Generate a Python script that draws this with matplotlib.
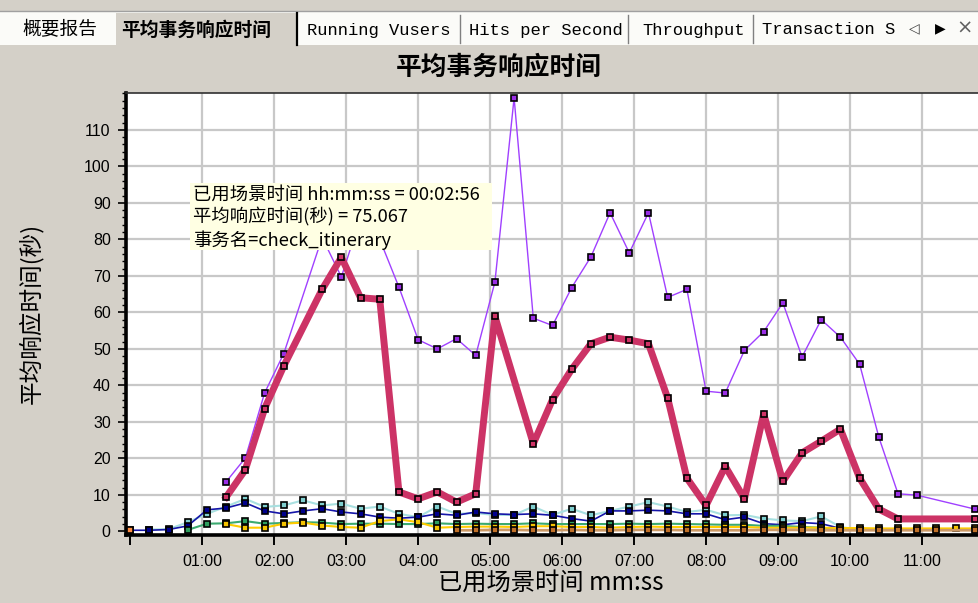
import matplotlib
matplotlib.use('Agg')
import matplotlib.pyplot as plt
from matplotlib.patches import Rectangle
from matplotlib.lines import Line2D
from matplotlib.ticker import FixedLocator, MultipleLocator, FuncFormatter
import numpy as np

plt.rcParams['font.family'] = ['Noto Sans CJK SC', 'DejaVu Sans']

nan = np.nan

# samples every 16 s (granularity of the analysis graph)
elapsed = np.arange(45) * 16

check_itinerary = [nan, nan, nan, nan, nan,
                   9.4, 16.9, 33.6, 45.3, nan,
                   66.3, 75.067, 64.0, 63.6, 10.8,
                   8.9, 10.8, 8.0, 10.3, 58.9, nan, 24.0, 36.1, 44.4, 51.4,
                   53.2, 52.4, 51.4, 36.5, 14.6, 7.1, 17.8, 8.9, 32.2, 13.7,
                   21.5, 24.7, 28.0, 14.6, 6.1, 3.4, nan, nan, nan, 3.4]
purple_txn = [nan, nan, nan, nan, nan,
              13.6, 20.1, 37.9, 48.7, nan,
              80.5, 69.7, 86.0, 80.0, 66.9,
              52.5, 50.0, 52.8, 48.2, 68.3, 118.8, 58.4, 56.4, 66.8, 75.2,
              87.3, 76.3, 87.3, 64.1, 66.3, 38.4, 37.9, 49.6, 54.7, 62.6,
              47.8, 58.0, 53.2, 45.8, 25.8, 10.3, 9.9, nan, nan, 6.1]
navy_txn = [0.3, 0.3, 0.5, 1.5, 5.9, 6.4, 7.8, 5.6, 4.8, 5.6,
            6.2, 5.3, 4.8, 3.9, 3.6, 3.9, 4.8, 4.4, 5.3, 4.8,
            4.6, 4.8, 4.4, 3.5, 2.8, 5.6, 5.6, 5.8, 5.6, 4.8,
            4.8, 3.2, 3.9, 2.1, 1.8, 2.4, 2.1, 0.8, 0.5, nan,
            nan, nan, nan, nan, nan]
teal_txn = [nan, 0.5, 0.6, 2.5, 4.8, 6.8, 8.9, 6.7, 7.1, 8.5,
            7.1, 7.6, 6.2, 6.8, 4.8, 3.9, 6.8, 4.8, 5.0, 4.5,
            4.5, 6.8, 4.5, 6.2, 4.4, 5.6, 6.8, 8.0, 6.8, 5.3,
            5.9, 4.4, 4.5, 3.5, 3.0, 2.8, 4.1, 1.2, 0.4, nan,
            nan, nan, nan, nan, nan]
green_txn = [nan, nan, nan, 0.4, 2.1, 2.2, 2.8, 2.1, 2.3, 2.5,
             2.4, 2.0, 2.1, 2.1, 2.0, 2.0, 2.2, 2.0, 2.1, 2.0,
             2.0, 2.2, 2.0, 2.0, 2.0, 2.0, 2.1, 2.0, 2.1, 2.0,
             1.9, 1.8, 1.8, 1.5, 1.5, 1.2, 1.0, 0.6, nan, nan,
             nan, nan, nan, nan, nan]
yellow_txn = [nan, nan, nan, nan, nan, 2.0, 1.0, 1.0, 2.1, 2.4,
              1.6, 1.2, 1.0, 2.8, 3.3, 2.5, 1.0, 1.2, 1.3, 1.3,
              1.2, 1.4, 1.4, 1.2, 1.2, 1.0, 1.2, 1.3, 1.2, 1.2,
              1.2, 1.2, 1.2, 1.0, 1.0, 1.0, 1.0, 0.9, 0.9, 0.8,
              0.8, 0.8, 0.8, 0.8, 0.8]
brown_txn = [nan, nan, nan, nan, nan, nan, nan, nan, nan, nan,
             nan, nan, nan, nan, nan, nan, nan, 0.3, 0.3, 0.4,
             0.4, 0.3, 0.3, 0.4, 0.3, 0.3, 0.4, 0.4, 0.4, 0.3,
             0.3, 0.3, 0.3, 0.4, 0.4, 0.4, 0.3, 0.3, 0.3, 0.3,
             0.3, 0.3, 0.3, nan, 0.3]
orange_txn = [0.3] + [nan] * 44

y_ticks = list(range(0, 111, 10))
x_ticks = list(range(0, 661, 60))

tabs = ['Running Vusers', 'Hits per Second', 'Throughput', 'Transaction S']

W, H = 979, 603


def fx(px):
    return px / W


def fy(py):
    return 1 - py / H


fig = plt.figure(figsize=(W / 100, H / 100), dpi=100, facecolor='#D4D0C8')

# ---- tab strip ----
fig.patches.append(Rectangle((0, fy(45)), 1, fy(11) - fy(45), transform=fig.transFigure,
                             facecolor='#FBFBF8', edgecolor='none'))
fig.lines.append(Line2D([0, 1], [fy(11), fy(11)], transform=fig.transFigure, color='#A0A0A0', lw=1))
fig.patches.append(Rectangle((fx(116), fy(45)), fx(297) - fx(116), fy(13) - fy(45),
                             transform=fig.transFigure, facecolor='#D4D0C8', edgecolor='none'))
fig.lines.append(Line2D([fx(297), fx(297)], [fy(45), fy(13)], transform=fig.transFigure, color='black', lw=1.6))
fig.text(fx(22), fy(30), '概要报告', fontsize=13.5, va='center', ha='left')
fig.text(fx(121), fy(30), '平均事务响应时间', fontsize=13.5, fontweight='bold', va='center', ha='left')
tab_x = [307, 469, 642, 762]
sep_x = [460, 628, 753]
for x, t in zip(tab_x, tabs):
    fig.text(fx(x), fy(30), t, family='Liberation Mono', fontsize=12.3, va='center', ha='left')
for x in sep_x:
    fig.lines.append(Line2D([fx(x), fx(x)], [fy(43), fy(15)], transform=fig.transFigure, color='#808080', lw=1))
fig.patches.append(Rectangle((fx(892), fy(44)), fx(979) - fx(892), fy(13) - fy(44),
                             transform=fig.transFigure, facecolor='#FBFBF8', edgecolor='none'))
fig.text(fx(914), fy(28), '◁', family='DejaVu Sans', fontsize=10, color='#404040', ha='center', va='center')
fig.text(fx(940), fy(28), '▶', family='DejaVu Sans', fontsize=10, color='black', ha='center', va='center')
fig.text(fx(965), fy(28), '×', family='DejaVu Sans', fontsize=14, color='#606060', ha='center', va='center')

# ---- chart ----
fig.text(fx(499), fy(67), '平均事务响应时间', fontsize=18.5, fontweight='bold', ha='center', va='center')

ax = fig.add_axes([fx(126), fy(535), fx(979) - fx(126), fy(93) - fy(535)])
ax.set_facecolor('white')
ax.set_xlim(-3.5, 707.5)
ax.set_ylim(-1.0, 120.1)

for v in y_ticks[1:]:
    ax.axhline(v, color='#C8C8C8', lw=1.6, zorder=0)
for v in x_ticks[1:]:
    ax.axvline(v, color='#C8C8C8', lw=1.6, zorder=0)

series = [
    (teal_txn, '#A8E0E0', '#7FCFCF', 1.5),
    (navy_txn, '#1515A8', '#00008B', 1.2),
    (green_txn, '#3CAA70', '#2E9E5E', 1.5),
    (yellow_txn, '#FFCC00', '#F5C400', 1.5),
    (brown_txn, '#CC9966', '#C07028', 2.0),
    (orange_txn, '#FF8C42', '#FF8C42', 1.0),
    (purple_txn, '#A040FF', '#9A2EE6', 1.0),
    (check_itinerary, '#CC3366', '#D03366', 5.0),
]
for vals, lc, mc, lw in series:
    y = np.array(vals, dtype=float)
    m = ~np.isnan(y)
    ax.plot(elapsed[m], y[m], color=lc, lw=lw, marker='s', markersize=5,
            markerfacecolor=mc, markeredgecolor='black', markeredgewidth=1.2,
            solid_joinstyle='round', zorder=3)

ax.yaxis.set_major_locator(FixedLocator(y_ticks))
ax.yaxis.set_minor_locator(MultipleLocator(2))
ax.xaxis.set_major_locator(FixedLocator(x_ticks))
ax.xaxis.set_major_formatter(FuncFormatter(
    lambda v, p: '' if v == 0 else f'{int(v) // 60:02d}:{int(v) % 60:02d}'))
ax.tick_params(axis='y', which='major', direction='out', length=6, width=1.2, pad=5,
               labelsize=11.5, labelfontfamily='Liberation Sans')
ax.tick_params(axis='y', which='minor', direction='out', length=3, width=1)
ax.tick_params(axis='x', which='major', direction='out', length=7, width=1.4, pad=7,
               labelsize=11.5, labelfontfamily='Liberation Sans')

for s in ['left', 'bottom']:
    ax.spines[s].set_linewidth(2.6)
    ax.spines[s].set_color('black')
ax.spines['top'].set_linewidth(1.2)
ax.spines['top'].set_color('#303030')
ax.spines['right'].set_visible(False)

fig.text(fx(551), fy(583), '已用场景时间 mm:ss', fontsize=17.5, ha='center', va='center')
fig.text(fx(31), fy(313), '平均响应时间(秒)', fontsize=17, rotation=90, ha='center', va='center')

# ---- tooltip ----
ax.add_patch(Rectangle(((190 - 126) / 853, (535 - 250) / 442), (492 - 190) / 853, (250 - 183) / 442,
                       transform=ax.transAxes, facecolor='#FFFFE3', edgecolor='none', zorder=10))
tip_lines = ['已用场景时间 hh:mm:ss = 00:02:56', '平均响应时间(秒) = 75.067', '事务名=check_itinerary']
for t, py in zip(tip_lines, [195, 217, 240]):
    ax.text((193 - 126) / 853, (535 - py) / 442, t, transform=ax.transAxes, fontsize=13.2,
            ha='left', va='center', zorder=11)

fig.savefig('out.png', dpi=100, facecolor=fig.get_facecolor())
